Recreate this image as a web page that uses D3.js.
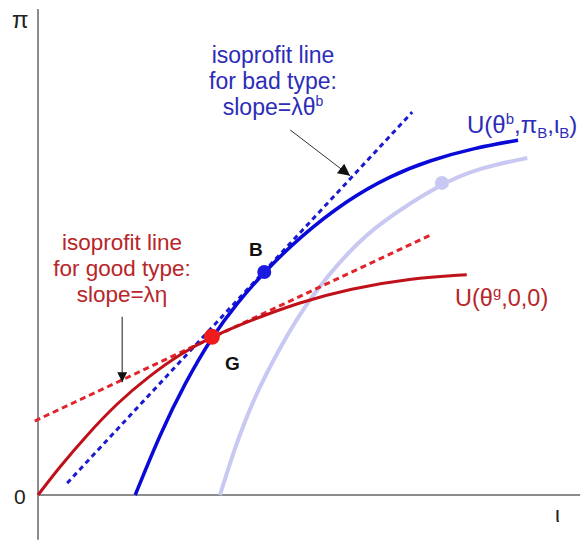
<!DOCTYPE html>
<html>
<head>
<meta charset="utf-8">
<script src="https://cdn.jsdelivr.net/npm/d3@7"></script>
<style>
  body { margin: 0; background: #fff; }
  text { font-family: 'Liberation Sans', Arial, sans-serif; }
</style>
</head>
<body>
<div id="chart"></div>
<script>
// curve points in (l, pi) units
const goodCurve = [
  [0, 0], [0.41, 0.53], [0.87, 1.07], [1.46, 1.70], [2.07, 2.21], [2.63, 2.61],
  [3.22, 2.93], [3.93, 3.23], [4.85, 3.57], [5.78, 3.82], [6.89, 4.01], [7.94, 4.08],
];
const badCurve = [
  [1.80, 0], [2.26, 1.13], [2.72, 2.07], [3.22, 2.93], [3.70, 3.57], [4.19, 4.13],
  [4.85, 4.78], [5.72, 5.46], [6.52, 5.91], [7.26, 6.20], [8.09, 6.43], [8.89, 6.57],
];
const shiftedCurve = [
  [3.37, 0], [3.65, 0.89], [3.98, 1.76], [4.48, 2.74], [5.04, 3.67], [5.78, 4.54],
  [6.33, 5.04], [7.48, 5.78], [8.19, 6.06], [9.06, 6.24],
];
const goodIsoprofit = [[-0.06, 1.37], [7.26, 4.81]];
const badIsoprofit = [[0.54, 0.22], [6.93, 7.09]];
const pointG = [3.22, 2.93];
const pointB = [4.19, 4.13];
const pointShifted = [7.48, 5.78];
const goodNote = ['isoprofit line', 'for good type:', 'slope=λη'];
const badNote = ['isoprofit line', 'for bad type:', 'slope=λθ'];

const width = 587;
const height = 542;

const xScale = d3.scaleLinear().domain([0, 10]).range([38, 578]);
const yScale = d3.scaleLinear().domain([0, 9]).range([495, 9]);

const line = d3.line()
  .curve(d3.curveBasis)
  .x(d => xScale(d[0]))
  .y(d => yScale(d[1]));

const straight = d3.line()
  .x(d => xScale(d[0]))
  .y(d => yScale(d[1]));

const svg = d3.select('#chart').append('svg')
  .attr('width', width)
  .attr('height', height);

const defs = svg.append('defs');
defs.append('marker')
  .attr('id', 'head')
  .attr('viewBox', '0 0 10 10')
  .attr('refX', 10).attr('refY', 5)
  .attr('markerWidth', 10).attr('markerHeight', 10)
  .attr('markerUnits', 'userSpaceOnUse')
  .attr('orient', 'auto')
  .append('path')
  .attr('d', 'M0,0 L10,5 L0,10 Z')
  .attr('fill', '#111');
defs.append('marker')
  .attr('id', 'head2')
  .attr('viewBox', '0 0 10 10')
  .attr('refX', 10).attr('refY', 5)
  .attr('markerWidth', 14).attr('markerHeight', 12)
  .attr('markerUnits', 'userSpaceOnUse')
  .attr('orient', 'auto')
  .append('path')
  .attr('d', 'M0,0 L10,5 L0,10 Z')
  .attr('fill', '#111');

// axes
svg.append('line')
  .attr('x1', xScale(0)).attr('x2', xScale(0))
  .attr('y1', yScale(-0.83)).attr('y2', yScale(9))
  .attr('stroke', '#8c8c8c').attr('stroke-width', 2);
svg.append('line')
  .attr('x1', xScale(0)).attr('x2', xScale(10.04))
  .attr('y1', yScale(0)).attr('y2', yScale(0))
  .attr('stroke', '#8c8c8c').attr('stroke-width', 2);

svg.append('text').attr('x', 12).attr('y', 28).attr('font-size', 24).attr('fill', '#222').text('π');
svg.append('text').attr('x', 14).attr('y', 504).attr('font-size', 21).attr('fill', '#222').text('0');
svg.append('text').attr('x', 555).attr('y', 522).attr('font-size', 22).attr('fill', '#222').text('ι');

// curves
svg.append('path')
  .attr('d', line(shiftedCurve))
  .attr('fill', 'none').attr('stroke', '#c8c8f2').attr('stroke-width', 4);

svg.append('path')
  .attr('d', straight(goodIsoprofit))
  .attr('fill', 'none').attr('stroke', '#e0242a').attr('stroke-width', 3)
  .attr('stroke-dasharray', '6,4');

svg.append('path')
  .attr('d', straight(badIsoprofit))
  .attr('fill', 'none').attr('stroke', '#1a1ad0').attr('stroke-width', 3)
  .attr('stroke-dasharray', '5,4');

svg.append('path')
  .attr('d', line(goodCurve))
  .attr('fill', 'none').attr('stroke', '#c0101a').attr('stroke-width', 3);

svg.append('path')
  .attr('d', line(badCurve))
  .attr('fill', 'none').attr('stroke', '#0a0ad8').attr('stroke-width', 3.5);

// dots
svg.append('circle')
  .attr('cx', xScale(pointShifted[0])).attr('cy', yScale(pointShifted[1]))
  .attr('r', 7).attr('fill', '#c8c8f2');
svg.append('circle')
  .attr('cx', xScale(pointB[0])).attr('cy', yScale(pointB[1]))
  .attr('r', 7).attr('fill', '#1a1ae0');
svg.append('circle')
  .attr('cx', xScale(pointG[0])).attr('cy', yScale(pointG[1]))
  .attr('r', 8).attr('fill', '#ee1c1c');

svg.append('text').attr('x', 249).attr('y', 256).attr('font-size', 19)
  .attr('font-weight', 'bold').attr('fill', '#111').text('B');
svg.append('text').attr('x', 225).attr('y', 370).attr('font-size', 19)
  .attr('font-weight', 'bold').attr('fill', '#111').text('G');

// arrows
svg.append('line')
  .attr('x1', xScale(1.56)).attr('y1', yScale(3.30))
  .attr('x2', xScale(1.56)).attr('y2', yScale(2.09))
  .attr('stroke', '#666').attr('stroke-width', 1.5)
  .attr('marker-end', 'url(#head)');
svg.append('line')
  .attr('x1', xScale(4.67)).attr('y1', yScale(6.76))
  .attr('x2', xScale(5.78)).attr('y2', yScale(5.91))
  .attr('stroke', '#333').attr('stroke-width', 1)
  .attr('marker-end', 'url(#head2)');

// notes
const goodText = svg.append('text')
  .attr('font-size', 22.5).attr('fill', '#b8262a').attr('text-anchor', 'middle');
goodNote.forEach((t, i) => {
  goodText.append('tspan').attr('x', 122).attr('y', 250 + i * 26).text(t);
});

const badText = svg.append('text')
  .attr('font-size', 23).attr('fill', '#2c2cb8').attr('text-anchor', 'middle');
badNote.forEach((t, i) => {
  badText.append('tspan').attr('x', 273).attr('y', 63 + i * 26).text(t);
  if (i === 2) {
    badText.append('tspan').attr('dy', -9).attr('font-size', 14).text('b');
  }
});

// curve labels
const uBad = svg.append('text').attr('x', 467).attr('y', 133)
  .attr('font-size', 24).attr('fill', '#2c2cb8');
uBad.append('tspan').text('U(θ');
uBad.append('tspan').attr('dy', -9).attr('font-size', 15).text('b');
uBad.append('tspan').attr('dy', 9).text(',π');
uBad.append('tspan').attr('dy', 5).attr('font-size', 15).text('B');
uBad.append('tspan').attr('dy', -5).text(',ι');
uBad.append('tspan').attr('dy', 5).attr('font-size', 15).text('B');
uBad.append('tspan').attr('dy', -5).text(')');

const uGood = svg.append('text').attr('x', 455).attr('y', 306)
  .attr('font-size', 23.5).attr('fill', '#b8262a');
uGood.append('tspan').text('U(θ');
uGood.append('tspan').attr('dy', -9).attr('font-size', 15).text('g');
uGood.append('tspan').attr('dy', 9).text(',0,0)');
</script>
</body>
</html>
